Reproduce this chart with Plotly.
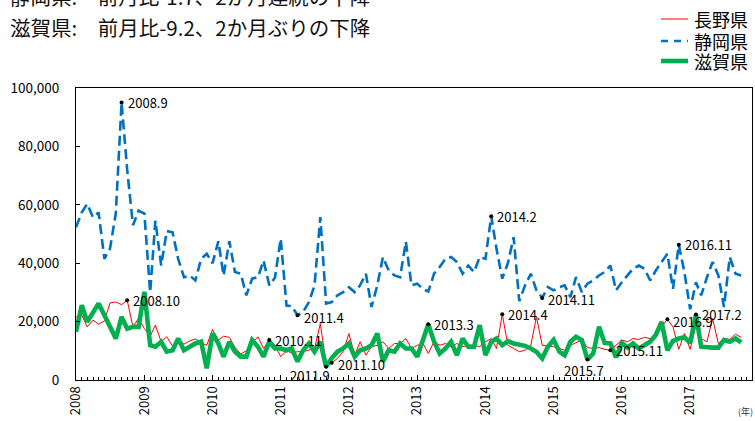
import plotly.graph_objects as go

# ---- data (monthly, 2008.1 - 2017.10) ----
start_year = 2008
n_months = 118
months = [f"{start_year + i // 12}-{i % 12 + 1:02d}-01" for i in range(n_months)]

nagano = [
    21600, 22200, 18200, 20500, 19100, 20200, 26400, 26700, 25800, 27300,
    18200, 21100, 17600, 15000, 18800, 13100, 14800, 11600, 13700, 12300,
    13400, 14100, 12700, 11900, 17300, 13700, 15000, 14600, 11200, 8900,
    10000, 12700, 14800, 10800, 13700, 11900, 8000, 10000, 9300, 9700,
    9700, 10200, 10800, 19300, 5500, 5900, 7400, 9700, 15900, 8500,
    13100, 8500, 11400, 11900, 13100, 10800, 12500, 12500, 14200, 10800,
    11900, 12500, 9100, 13100, 11900, 12500, 11400, 12500, 11400, 11900,
    11900, 11400, 13100, 14200, 10800, 22500, 11900, 10800, 9700, 10200,
    11900, 21600, 11900, 11600, 11400, 10800, 10200, 11900, 12700, 13700,
    11100, 10800, 11100, 10500, 10200, 11900, 13700, 13100, 14200, 13900,
    14600, 14200, 15400, 18200, 20800, 18200, 10500, 15900, 10500, 18800,
    14200, 13100, 21000, 12500, 14200, 13900, 15700, 14600,
]

shizuoka = [
    52300, 57400, 60300, 55700, 57400, 41500, 45000, 57000, 95000, 72000,
    53000, 58000, 57000, 30000, 54600, 39200, 51000, 50600, 41500, 35200,
    35800, 34100, 41500, 43200, 40000, 47500, 35800, 47500, 37000, 36400,
    29000, 34700, 35200, 40900, 32400, 35000, 48400, 25500, 25300, 22200,
    23300, 26700, 32400, 55800, 26200, 26700, 29000, 30100, 31800, 30100,
    32400, 36400, 25000, 32400, 42100, 37500, 35800, 35200, 47400, 32400,
    33000, 31100, 30300, 36400, 38700, 41500, 42100, 40400, 36400, 39200,
    37000, 42100, 41500, 56100, 45000, 34700, 40000, 48900, 27000, 32400,
    36400, 30700, 28100, 31800, 30700, 31800, 32400, 28400, 35200, 30100,
    33000, 34100, 35800, 37000, 39200, 30700, 33500, 35800, 38100, 39200,
    38100, 34100, 37500, 40400, 43200, 31200, 46300, 37000, 24200, 33500,
    29000, 35200, 40400, 35800, 25000, 42100, 36400, 35800,
]

shiga = [
    16500, 25600, 19900, 22800, 26200, 22200, 18200, 14200, 21600, 17600,
    18200, 18200, 30200, 11900, 11400, 13100, 9700, 10200, 14200, 10200,
    11400, 12500, 13100, 4000, 16000, 12500, 8000, 13100, 9700, 8000,
    8000, 13700, 11400, 8000, 13100, 10800, 10800, 10200, 10800, 6300,
    10200, 12500, 9700, 13100, 4500, 7500, 9700, 10800, 12500, 8000,
    10200, 10800, 11900, 15900, 6300, 10200, 9700, 12500, 10800, 10800,
    8000, 14200, 19100, 13100, 9100, 10800, 13100, 8500, 14200, 11400,
    11400, 18800, 8500, 13100, 14200, 11900, 13300, 12500, 12200, 11700,
    10800, 9700, 7400, 11400, 13700, 9700, 8500, 13100, 14800, 13700,
    7000, 9100, 18200, 12700, 12500, 7700, 12700, 11100, 12500, 10800,
    11900, 13100, 15400, 19900, 10200, 13400, 14200, 14600, 12700, 22400,
    11400, 11100, 11100, 11100, 13700, 13100, 14200, 12900,
]

series_names = ["長野県", "静岡県", "滋賀県"]
series_values = {"長野県": nagano, "静岡県": shizuoka, "滋賀県": shiga}

# annotated points: (label, series, month index)
callouts = [
    ("2008.9", "静岡県", 8), ("2008.10", "長野県", 9), ("2010.11", "長野県", 34),
    ("2011.4", "静岡県", 39), ("2011.9", "滋賀県", 44), ("2011.10", "長野県", 45),
    ("2013.3", "滋賀県", 62), ("2014.2", "静岡県", 73), ("2014.4", "長野県", 75),
    ("2014.11", "静岡県", 82), ("2015.7", "滋賀県", 90), ("2015.11", "長野県", 94),
    ("2016.9", "長野県", 104), ("2016.11", "静岡県", 106), ("2017.2", "滋賀県", 109),
]

y_ticks = [0, 20000, 40000, 60000, 80000, 100000]
title_lines = ["静岡県:　前月比-1.7、2か月連続の下降", "滋賀県:　前月比-9.2、2か月ぶりの下降"]

FONT = "Noto Sans CJK JP, Noto Sans, sans-serif"
styles = {
    "長野県": dict(color="#FF0000", width=1),
    "静岡県": dict(color="#0070C0", width=2.6, dash="10px,5px"),
    "滋賀県": dict(color="#00B050", width=4.6),
}

# geometry (pixels)
W, H = 755, 421
L, R, T, B = 76, 3, 88, 41
pw, ph = W - L - R, H - T - B


def px_x(x):
    return (x - L) / pw


def px_y(y):
    return (H - B - y) / ph


fig = go.Figure()
for s in series_names:
    fig.add_trace(go.Scatter(x=months, y=series_values[s], name=s, mode="lines",
                             line=styles[s], showlegend=False))

cx = [months[i] for _, s, i in callouts]
cy = [series_values[s][i] for _, s, i in callouts]
fig.add_trace(go.Scatter(x=cx, y=cy, mode="markers", showlegend=False,
                         marker=dict(color="black", size=4), hoverinfo="skip"))

special = {
    "2011.9": dict(xanchor="right", xshift=6, yshift=-9),
    "2015.7": dict(xanchor="center", xshift=-3, yshift=-11),
    "2011.4": dict(yshift=-2), "2011.10": dict(yshift=-2),
    "2014.11": dict(yshift=-2), "2016.9": dict(yshift=-2),
}
for (lab, s, i), xv, yv in zip(callouts, cx, cy):
    kw = dict(xanchor="left", xshift=4, yshift=0)
    kw.update(special.get(lab, {}))
    fig.add_annotation(x=xv, y=yv, xref="x", yref="y", text=lab, showarrow=False,
                       yanchor="middle", font=dict(size=13, color="black", family=FONT), **kw)

# title lines
for t, ypx in zip(title_lines, [-4, 27]):
    fig.add_annotation(x=px_x(8), y=px_y(ypx), xref="paper", yref="paper", text=t,
                       showarrow=False, xanchor="left", yanchor="middle",
                       font=dict(size=20.5, color="#111111", family=FONT))

# legend (drawn manually for exact spacing)
for s, ypx in zip(series_names, [19, 41, 61]):
    st = styles[s]
    fig.add_shape(type="line", xref="paper", yref="paper",
                  x0=px_x(661), x1=px_x(688), y0=px_y(ypx), y1=px_y(ypx),
                  line=dict(color=st["color"], width=st["width"],
                            dash="7px,6px" if "dash" in st else "solid"))
    fig.add_annotation(x=px_x(692), y=px_y(ypx), xref="paper", yref="paper", text=s,
                       showarrow=False, xanchor="left", yanchor="middle",
                       font=dict(size=18, color="black", family=FONT))

fig.add_annotation(x=px_x(745), y=px_y(411), xref="paper", yref="paper", text="(年)",
                   showarrow=False, xanchor="center", yanchor="middle",
                   font=dict(size=9, color="#333333", family=FONT))

fig.update_layout(
    width=W, height=H,
    margin=dict(l=L, r=R, t=T, b=B, autoexpand=False),
    paper_bgcolor="white", plot_bgcolor="white",
    font=dict(family=FONT, color="black"),
    showlegend=False,
)
fig.update_xaxes(
    type="date", range=["2008-01-01", "2017-11-28"], automargin=False,
    tickvals=[f"{y}-01-01" for y in range(2008, 2018)],
    ticktext=[str(y) for y in range(2008, 2018)],
    tickangle=-90, tickfont=dict(size=13, color="black", family=FONT),
    ticks="inside", ticklen=5, tickcolor="black",
    minor=dict(dtick="M1", tick0="2008-01-01", ticks="inside", ticklen=3,
               tickcolor="black", showgrid=False),
    showgrid=False, zeroline=False,
    showline=True, linecolor="black", linewidth=1.3, mirror=True,
)
fig.update_yaxes(
    range=[0, 100000], tickvals=y_ticks, tickformat=",", automargin=False,
    tickfont=dict(size=13.5, color="black", family=FONT), ticklabelstandoff=13,
    ticks="inside", ticklen=4, tickcolor="black",
    showgrid=False, zeroline=False,
    showline=True, linecolor="black", linewidth=1.3, mirror=True,
)

fig.write_html("out.html", config={"displayModeBar": False},
               post_script="document.body.style.margin='0';document.body.style.overflow='hidden';")
